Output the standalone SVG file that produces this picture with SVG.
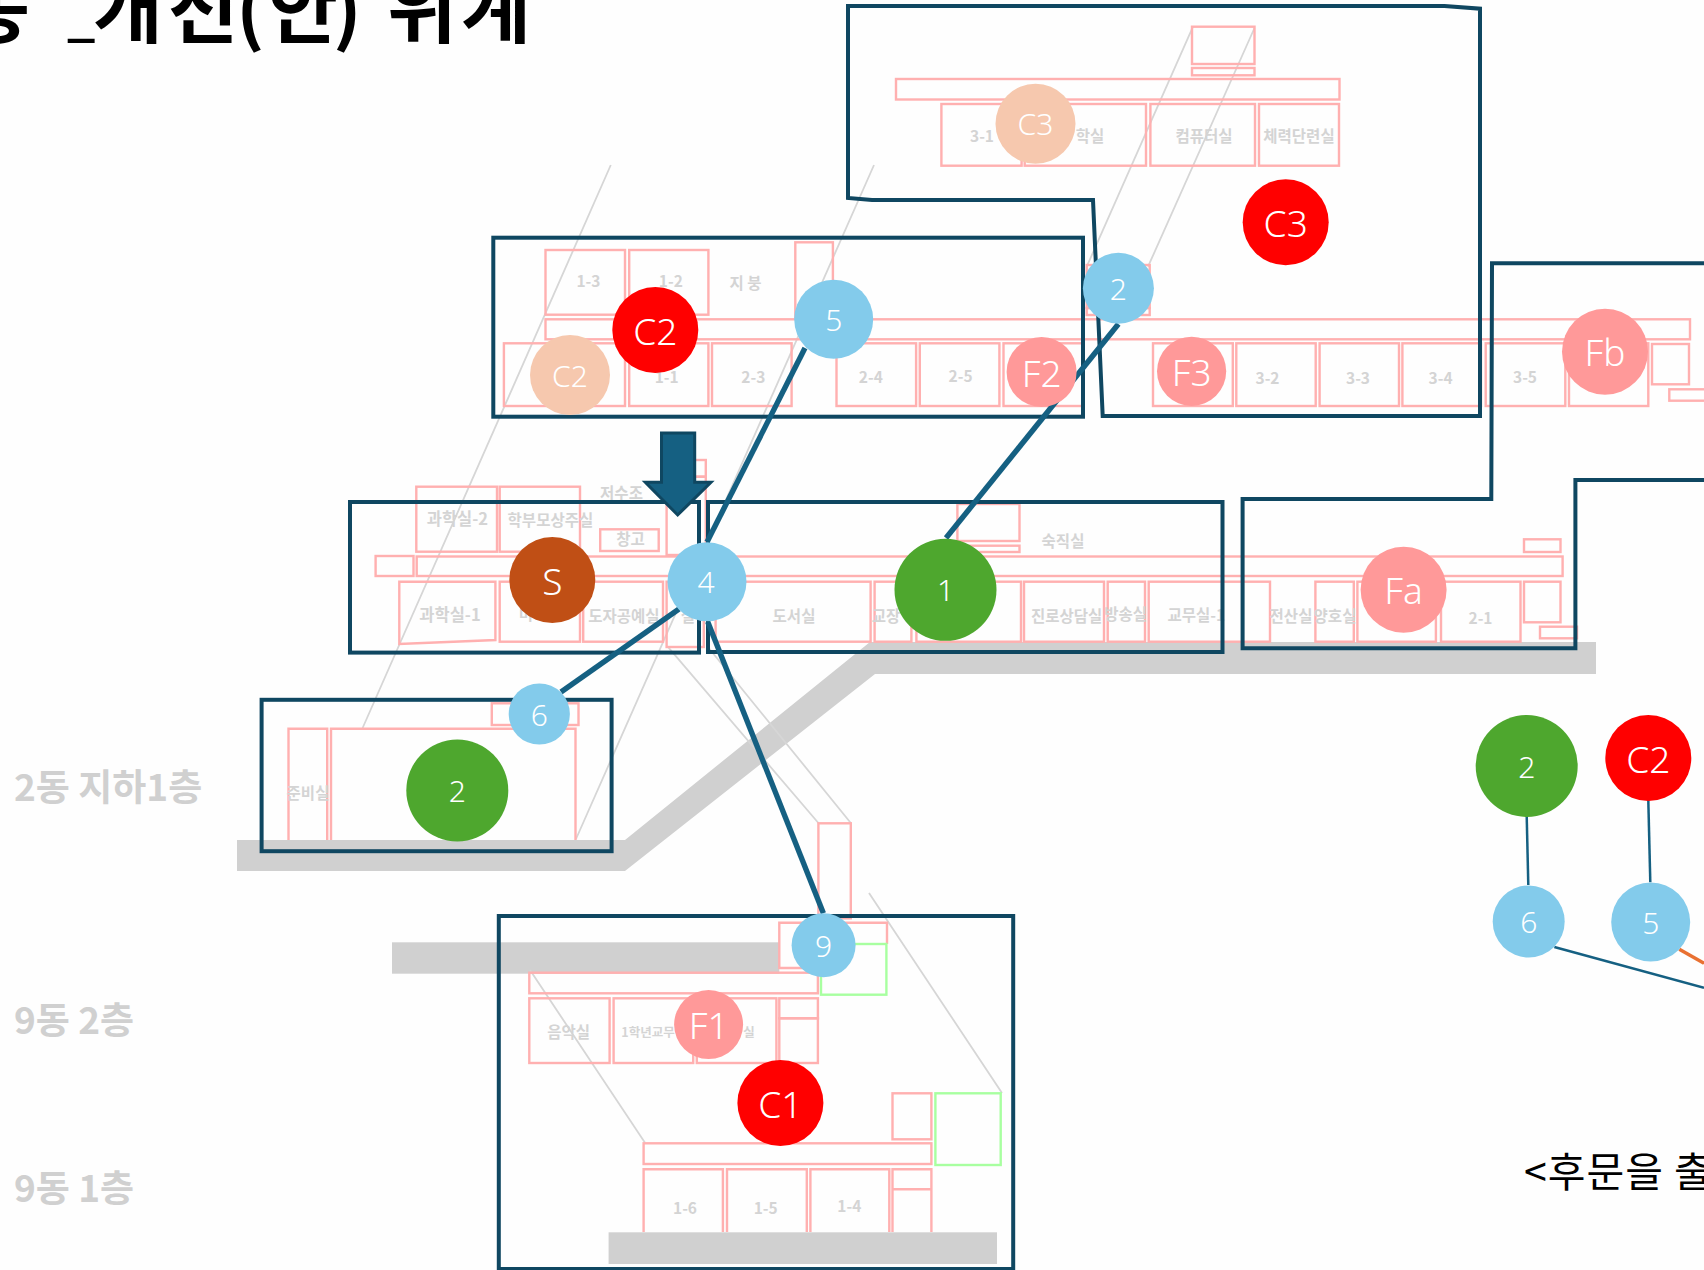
<svg xmlns="http://www.w3.org/2000/svg" width="1704" height="1270" viewBox="0 0 1704 1270">
<style>
.room{fill:none;stroke:#ffb0b0;stroke-width:2.4}
.green{fill:none;stroke:#a8ffa0;stroke-width:2.4}
.guide{fill:none;stroke:#d6d6d6;stroke-width:1.8}
.bar{fill:#d0d0d0}
.frame{fill:none;stroke:#0f4761;stroke-width:4}
.link{fill:none;stroke:#156082;stroke-width:5.4}
.link2{fill:none;stroke:#156082;stroke-width:2.5}
.rl{font-family:"Noto Sans CJK KR","Noto Sans",sans-serif;font-size:15.5px;font-weight:700;fill:#d4d4d4;text-anchor:middle;dominant-baseline:central}
.floor{font-family:"Noto Sans CJK KR","Liberation Sans",sans-serif;font-size:37px;font-weight:700;fill:#d0d0d0}
.n text{font-family:"Noto Sans","Open Sans",sans-serif;font-weight:300;fill:#fff;text-anchor:middle;dominant-baseline:central}
.big{font-size:37px}
.small{font-size:30px}
.red{fill:#ff0000}.peach{fill:#f6c8ae}.blue{fill:#83cbeb}.pink{fill:#ff9999}.grn{fill:#4ea72e}.brn{fill:#c04f15}
</style>
<rect width="1704" height="1270" fill="#fefefe"/>
<text id="title" y="37" font-family="'Noto Sans CJK KR',sans-serif" font-size="76" font-weight="700" fill="#000"><tspan x="-40">동</tspan><tspan x="67" y="35" font-size="50">_</tspan><tspan x="93 168 236 268 333 375 387 461" y="37">개선(안) 위계</tspan></text>
<g id="floor-labels">
<text class="floor" x="14" y="801">2동 지하1층</text>
<text class="floor" x="14" y="1034">9동 2층</text>
<text class="floor" x="14" y="1202">9동 1층</text>
</g>
<g id="plan">
<path class="bar" d="M237 840H625L870 642H1596V674H875L625 871H237Z"/>
<rect class="bar" x="392" y="942.3" width="387.3" height="31.4"/>
<rect class="bar" x="608.6" y="1232.3" width="388.4" height="31.7"/>
<path class="guide" d="M610.8 165L362.6 728M874 165L576 839M1193 26.7L1086.7 266.7M1254.5 28L1148 266.7M667.7 646.7L818.4 823M707.7 646.7L850.8 823M869 893L1002 1093M530 970L645 1142.7"/>
<g id="floor3">
<rect class="room" x="1192" y="26.7" width="62.5" height="37.3"/>
<rect class="room" x="1192" y="68" width="62.5" height="7.3"/>
<rect class="room" x="896" y="79" width="443.5" height="20.5"/>
<rect class="room" x="941.4" y="104" width="80.2" height="61.7"/>
<rect class="room" x="1024.7" y="104" width="121.3" height="61.7"/>
<rect class="room" x="1150.4" y="104" width="104.6" height="61.7"/>
<rect class="room" x="1259" y="104" width="80" height="61.7"/>
<text class="rl" x="982" y="135">3-1</text>
<text class="rl" x="1090" y="135">학실</text>
<text class="rl" x="1204" y="135">컴퓨터실</text>
<text class="rl" x="1299" y="135">체력단련실</text>
</g>
<g id="floor2">
<rect class="room" x="545.5" y="250" width="79.5" height="64.7"/>
<rect class="room" x="629.2" y="250" width="79.2" height="64.7"/>
<rect class="room" x="795.3" y="242.3" width="37.6" height="76"/>
<rect class="room" x="1086.7" y="265" width="63" height="43"/>
<rect class="room" x="1086.7" y="308" width="63" height="7"/>
<rect class="room" x="545.5" y="319.3" width="1144.5" height="20"/>
<rect class="room" x="503.9" y="343.3" width="121.1" height="62.7"/>
<rect class="room" x="629.2" y="343.3" width="79.2" height="62.7"/>
<rect class="room" x="712" y="343.3" width="79.6" height="62.7"/>
<rect class="room" x="836.5" y="343.3" width="79.6" height="62.7"/>
<rect class="room" x="919.8" y="343.3" width="79.6" height="62.7"/>
<rect class="room" x="1003.5" y="343.3" width="79.5" height="62.7"/>
<rect class="room" x="1153" y="343.3" width="79.8" height="62.7"/>
<rect class="room" x="1236.3" y="343.3" width="79.4" height="62.7"/>
<rect class="room" x="1319.6" y="343.3" width="79.4" height="62.7"/>
<rect class="room" x="1402.4" y="343.3" width="78.6" height="62.7"/>
<rect class="room" x="1485.7" y="343.3" width="79.6" height="62.7"/>
<rect class="room" x="1569" y="343.3" width="79.3" height="62.7"/>
<rect class="room" x="1652" y="344" width="37" height="40.3"/>
<rect class="room" x="1669.3" y="389.3" width="36" height="11.4"/>
<text class="rl" x="588.4" y="280">1-3</text>
<text class="rl" x="670.8" y="280">1-2</text>
<text class="rl" x="745.5" y="281.7">지 붕</text>
<text class="rl" x="666.7" y="376">1-1</text>
<text class="rl" x="753.3" y="375.7">2-3</text>
<text class="rl" x="870.8" y="375.7">2-4</text>
<text class="rl" x="960.6" y="374.7">2-5</text>
<text class="rl" x="1267.5" y="376.7">3-2</text>
<text class="rl" x="1358" y="376.7">3-3</text>
<text class="rl" x="1440.6" y="376.7">3-4</text>
<text class="rl" x="1525" y="376.3">3-5</text>
</g>
<g id="floor1">
<rect class="room" x="694" y="460" width="11.8" height="16.7"/>
<rect class="room" x="666.6" y="476.7" width="39.2" height="78.3"/>
<rect class="room" x="416.3" y="486.7" width="80.7" height="65"/>
<rect class="room" x="499.7" y="486.7" width="80.3" height="65"/>
<rect class="room" x="600.2" y="529.3" width="58.5" height="21.7"/>
<rect class="room" x="957.4" y="504" width="62.1" height="37"/>
<rect class="room" x="957.4" y="545.7" width="62.1" height="6.3"/>
<rect class="room" x="1524" y="539.3" width="36.5" height="12.7"/>
<rect class="room" x="375.6" y="556" width="37.9" height="20"/>
<rect class="room" x="416.7" y="556.5" width="1145.9" height="19.5"/>
<path class="room" d="M399.3 581.7H495.4V640L399.3 644Z"/>
<rect class="room" x="499.7" y="581.7" width="80.3" height="60"/>
<rect class="room" x="583.2" y="581.7" width="79.8" height="60"/>
<rect class="room" x="666.6" y="581.7" width="37.2" height="65.3"/>
<rect class="room" x="715.6" y="581.7" width="155" height="60"/>
<rect class="room" x="874.6" y="581.7" width="36.8" height="60"/>
<rect class="room" x="916.4" y="581.7" width="104.6" height="60"/>
<rect class="room" x="1024" y="581.7" width="80" height="60"/>
<rect class="room" x="1107.7" y="581.7" width="37.3" height="60"/>
<rect class="room" x="1148.7" y="581.7" width="121.3" height="60"/>
<rect class="room" x="1315.4" y="581.7" width="38.4" height="60"/>
<rect class="room" x="1357.4" y="581.7" width="78.5" height="60"/>
<rect class="room" x="1441" y="581.7" width="79.5" height="60"/>
<rect class="room" x="1524" y="581.7" width="36.5" height="40.6"/>
<rect class="room" x="1540" y="626.7" width="37" height="11.6"/>
<text class="rl" x="457.4" y="518.3" style="font-size:16.5px">과학실-2</text>
<text class="rl" x="550.4" y="519">학부모상주실</text>
<text class="rl" x="621.5" y="491.7">저수조</text>
<text class="rl" x="630.6" y="538">창고</text>
<text class="rl" x="450" y="614" style="font-size:16.5px">과학실-1</text>
<text class="rl" x="526" y="613">미</text>
<text class="rl" x="623.9" y="614.7">도자공예실</text>
<text class="rl" x="688" y="614.7">실</text>
<text class="rl" x="794" y="614.7">도서실</text>
<text class="rl" x="886" y="614.7">교장</text>
<text class="rl" x="1066.7" y="614.7">진로상담실</text>
<text class="rl" x="1125.6" y="613.3">방송실</text>
<text class="rl" x="1196.4" y="614">교무실-1</text>
<text class="rl" x="1291" y="614.7">전산실</text>
<text class="rl" x="1335" y="614.7">양호실</text>
<text class="rl" x="1480.5" y="617">2-1</text>
<text class="rl" x="1063" y="540">숙직실</text>
</g>
<g id="basement">
<rect class="room" x="491.8" y="703.3" width="86.7" height="21.7"/>
<path class="room" d="M288.5 840V728.7H327.2V840M331 840V728.7H575.5V840"/>
<text class="rl" x="308" y="791.7">준비실</text>
</g>
<g id="building9">
<rect class="room" x="818.4" y="823.3" width="32.4" height="95"/>
<path class="room" d="M821 968H779.3V922.7H887V944"/>
<rect class="green" x="821" y="944" width="65.4" height="50.7"/>
<rect class="room" x="529.3" y="972.7" width="288.6" height="20.6"/>
<rect class="room" x="529.3" y="998.3" width="80.3" height="64.7"/>
<rect class="room" x="613.6" y="998.3" width="79.6" height="64.7"/>
<rect class="room" x="696.8" y="998.3" width="79.6" height="64.7"/>
<rect class="room" x="779.3" y="998.3" width="38.6" height="20"/>
<rect class="room" x="779.3" y="1018.3" width="38.6" height="44.7"/>
<rect class="room" x="892.5" y="1093.3" width="38.9" height="46"/>
<rect class="green" x="935.4" y="1093.3" width="65.3" height="71.7"/>
<rect class="room" x="643.6" y="1143.3" width="287.8" height="20.7"/>
<path class="room" d="M643.6 1232V1169.3H722.9V1232M727 1232V1169.3H806.8V1232M810.4 1232V1169.3H889.3V1232M892.5 1232V1169.3H931.4V1232M892.5 1189.3H931.4"/>
<text class="rl" x="568.6" y="1030.7">음악실</text>
<text class="rl" x="648" y="1031" style="font-size:12.5px">1학년교무</text>
<text class="rl" x="749" y="1031" style="font-size:12.5px">실</text>
<text class="rl" x="685" y="1206.7">1-6</text>
<text class="rl" x="765.7" y="1206.7">1-5</text>
<text class="rl" x="849.3" y="1205">1-4</text>
</g>
</g>
<g id="frames">
<path class="frame" d="M848 6H1444.5L1480 8.7V416H1102.7L1093 200H872L848 198Z"/>
<rect class="frame" x="493.3" y="237.7" width="589.7" height="179"/>
<rect class="frame" x="350" y="502" width="349" height="150.6"/>
<rect class="frame" x="708" y="502" width="514.5" height="150"/>
<path class="frame" d="M1704 263.3H1492L1491.3 499H1242.6V648.3H1575.4V480H1704"/>
<rect class="frame" x="261.6" y="699.8" width="350" height="151.4"/>
<rect class="frame" x="498.8" y="916" width="514.4" height="353"/>
</g>
<g id="down-arrow"><path d="M661.5 433H694.7V482.3H711L677.7 515L645.3 482.3H661.5Z" fill="#156082" stroke="#0f4761" stroke-width="3"/></g>
<g id="connectors">
<path class="link" d="M805 348L707 542"/>
<path class="link" d="M1118.4 324L946 538"/>
<path class="link" d="M679 609L561 692"/>
<path class="link" d="M707.7 621.7L823.4 913.3"/>
<path class="link2" d="M1526.7 816L1528.3 885"/>
<path class="link2" d="M1648.3 800L1650.3 882.3"/>
<path class="link2" d="M1554.3 947L1704 987.7"/>
<path d="M1679.3 949.3L1704 963.3" fill="none" stroke="#e97132" stroke-width="3.5"/>
</g>
<g id="node-c3p" class="n"><circle class="peach" cx="1035.5" cy="123.7" r="40"/><text class="small" x="1035.5" y="123.7">C3</text></g>
<g id="node-c3" class="n"><circle class="red" cx="1285.7" cy="222.3" r="43"/><text class="big" x="1285.7" y="222.3">C3</text></g>
<g id="node-2b" class="n"><circle class="blue" cx="1118.4" cy="288.3" r="35.5"/><text class="small" x="1118.4" y="288.3">2</text></g>
<g id="node-f3" class="n"><circle class="pink" cx="1191.6" cy="371.3" r="34.6"/><text class="big" x="1191.6" y="371.3">F3</text></g>
<g id="node-f2" class="n"><circle class="pink" cx="1041.6" cy="372" r="35"/><text class="big" x="1041.6" y="372">F2</text></g>
<g id="node-5a" class="n"><circle class="blue" cx="833.7" cy="319.3" r="39.5"/><text class="small" x="833.7" y="319.3">5</text></g>
<g id="node-c2" class="n"><circle class="red" cx="655.3" cy="330" r="43"/><text class="big" x="655.3" y="330">C2</text></g>
<g id="node-c2p" class="n"><circle class="peach" cx="570" cy="375" r="40"/><text class="small" x="570" y="375">C2</text></g>
<g id="node-fb" class="n"><circle class="pink" cx="1605" cy="351.7" r="43"/><text class="big" x="1605" y="351.7">Fb</text></g>
<g id="node-s" class="n"><circle class="brn" cx="552.3" cy="580" r="43"/><text class="big" x="552.3" y="580">S</text></g>
<g id="node-4" class="n"><circle class="blue" cx="707" cy="581.7" r="39.5"/><text class="small" x="706" y="581.7">4</text></g>
<g id="node-1" class="n"><circle class="grn" cx="945.5" cy="589.8" r="51"/><text class="small" x="945.5" y="589.8">1</text></g>
<g id="node-fa" class="n"><circle class="pink" cx="1403.6" cy="589.7" r="43"/><text class="big" x="1403.6" y="589.7">Fa</text></g>
<g id="node-6a" class="n"><circle class="blue" cx="539.3" cy="714" r="30.6"/><text class="small" x="539.3" y="714">6</text></g>
<g id="node-2g" class="n"><circle class="grn" cx="457.3" cy="790.5" r="51"/><text class="small" x="457.3" y="790.5">2</text></g>
<g id="node-9" class="n"><circle class="blue" cx="823.6" cy="945.3" r="32"/><text class="small" x="823.6" y="945.3">9</text></g>
<g id="node-f1" class="n"><circle class="pink" cx="708.6" cy="1024.6" r="34.5"/><text class="big" x="708.6" y="1024.6">F1</text></g>
<g id="node-c1" class="n"><circle class="red" cx="780.4" cy="1103" r="43"/><text class="big" x="780.4" y="1103">C1</text></g>
<g id="node-2r" class="n"><circle class="grn" cx="1526.7" cy="766" r="51"/><text class="small" x="1526.7" y="766">2</text></g>
<g id="node-c2r" class="n"><circle class="red" cx="1648.3" cy="758" r="43"/><text class="big" x="1648.3" y="758">C2</text></g>
<g id="node-6r" class="n"><circle class="blue" cx="1528.7" cy="921.5" r="36"/><text class="small" x="1528.7" y="921.5">6</text></g>
<g id="node-5r" class="n"><circle class="blue" cx="1650.7" cy="922" r="39.5"/><text class="small" x="1650.7" y="922">5</text></g>
<text id="caption" x="1524" y="1187" font-family="'Noto Sans CJK KR',sans-serif" font-size="41" letter-spacing="1" fill="#000">&lt;후문을 출</text>
</svg>
